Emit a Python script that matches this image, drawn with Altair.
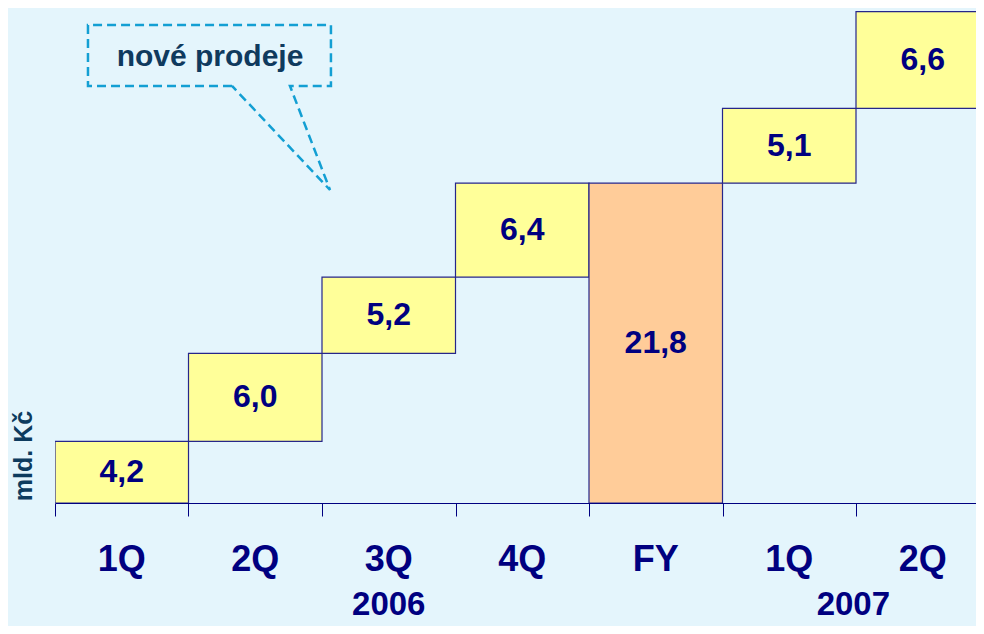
import altair as alt
import pandas as pd

# ---- data ----
categories = ["1Q", "2Q", "3Q", "4Q", "FY", "1Q", "2Q"]
values = [4.2, 6.0, 5.2, 6.4, 21.8, 5.1, 6.6]
kinds = ["q", "q", "q", "q", "total", "q", "q"]
value_labels = ["4,2", "6,0", "5,2", "6,4", "21,8", "5,1", "6,6"]
years = ["2006", "2007"]
year_pos = [2.5, 5.98]          # position along the category axis
callout_text = "nové prodeje"
y_title = "mld. Kč"

# callout outline (in data units: x = category slots, y = mld. Kč)
callout_x = [1.326, 0.247, 0.247, 2.067, 2.067, 1.760, 2.060, 1.326]
callout_y = [28.43, 28.43, 32.58, 32.58, 28.43, 28.43, 21.34, 28.43]

# waterfall bases (2007 continues from the FY total)
bases = []
run = 0.0
for v, k in zip(values, kinds):
    if k == "total":
        bases.append(0.0)
        run = v
    else:
        bases.append(run)
        run += v

n = len(values)
bars = pd.DataFrame({
    "x0": list(range(n)),
    "x1": [i + 1 for i in range(n)],
    "xm": [i + 0.5 for i in range(n)],
    "lo": bases,
    "hi": [b + v for b, v in zip(bases, values)],
    "mid": [b + v / 2 for b, v in zip(bases, values)],
    "kind": kinds,
    "label": value_labels,
    "cat": categories,
})
cat_df = bars.assign(ly=-3.9)
year_df = pd.DataFrame({"x": year_pos, "y": [-6.95] * 2, "t": years})
callout_df = pd.DataFrame({"x": callout_x, "y": callout_y, "o": list(range(len(callout_x)))})
callout_txt = pd.DataFrame({"x": [1.161], "y": [30.4], "t": [callout_text]})
ytitle_df = pd.DataFrame({"x": [-0.232], "y": [3.2], "t": [y_title]})

NAVY = "#000080"
FONT = "Liberation Sans"
PW, PH = 921, 495
XMAX = PW / 133.5
YMAX = PH / 14.67

xs = alt.Scale(domain=[0, XMAX], nice=False, zero=False)
ys = alt.Scale(domain=[0, YMAX], nice=False, zero=False)

rects = alt.Chart(bars).mark_rect(clip=True, stroke="#26268a", strokeWidth=1.2).encode(
    x=alt.X("x0:Q", scale=xs,
            axis=alt.Axis(values=list(range(7)), labels=False, title=None, grid=False,
                          domainColor=NAVY, tickColor=NAVY, tickSize=13, domainWidth=1, tickWidth=1)),
    x2="x1:Q",
    y=alt.Y("lo:Q", scale=ys, axis=None),
    y2="hi:Q",
    fill=alt.Fill("kind:N", scale=alt.Scale(domain=["q", "total"], range=["#ffff99", "#ffcc99"]), legend=None),
)

vals = alt.Chart(bars).mark_text(font=FONT, fontWeight="bold", fontSize=32, color=NAVY, baseline="middle").encode(
    x=alt.X("xm:Q", scale=xs), y=alt.Y("mid:Q", scale=ys), text="label:N")

cats = alt.Chart(cat_df).mark_text(font=FONT, fontWeight="bold", fontSize=36, color=NAVY, baseline="middle").encode(
    x=alt.X("xm:Q", scale=xs), y=alt.Y("ly:Q", scale=ys), text="cat:N")

yrs = alt.Chart(year_df).mark_text(font=FONT, fontWeight="bold", fontSize=33, color=NAVY, baseline="middle").encode(
    x=alt.X("x:Q", scale=xs), y=alt.Y("y:Q", scale=ys), text="t:N")

outline = alt.Chart(callout_df).mark_line(stroke="#139fd3", strokeWidth=2.5, strokeDash=[9, 5]).encode(
    x=alt.X("x:Q", scale=xs), y=alt.Y("y:Q", scale=ys), order="o:Q")

ctext = alt.Chart(callout_txt).mark_text(font=FONT, fontWeight="bold", fontSize=30, color="#0f3a5e", baseline="middle").encode(
    x=alt.X("x:Q", scale=xs), y=alt.Y("y:Q", scale=ys), text="t:N")

ytitle = alt.Chart(ytitle_df).mark_text(font=FONT, fontWeight="bold", fontSize=25, color="#0d3b5e", baseline="middle", angle=270).encode(
    x=alt.X("x:Q", scale=xs), y=alt.Y("y:Q", scale=ys), text="t:N")

chart = alt.layer(rects, vals, cats, yrs, outline, ctext, ytitle).properties(
    width=PW, height=PH,
    autosize=alt.AutoSizeParams(type="none"),
    padding={"left": 47, "top": 0, "right": 0, "bottom": 123},
    background="#e4f5fc",
).configure_view(stroke=None)

chart.save("out.html", embed_options={"renderer": "svg", "actions": False})
